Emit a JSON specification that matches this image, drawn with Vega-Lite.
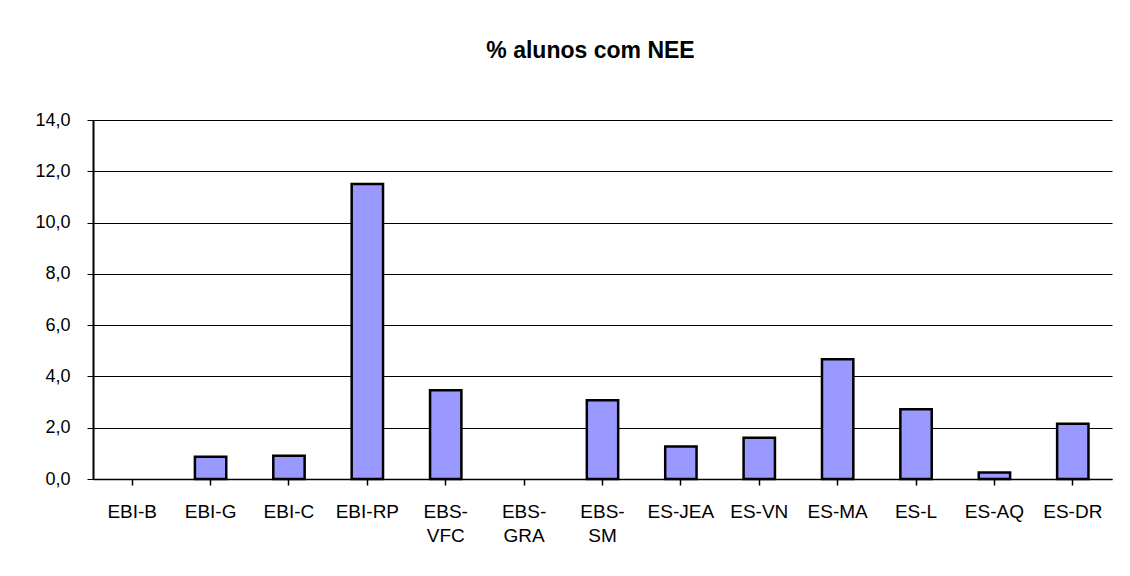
{
  "$schema": "https://vega.github.io/schema/vega-lite/v6.json",
  "autosize": "none",
  "width": 1019,
  "height": 359,
  "padding": {"left": 93, "top": 120, "right": 18, "bottom": 97},
  "background": "white",
  "title": {"text": "% alunos com NEE", "font": "Liberation Sans", "fontSize": 23, "fontWeight": "bold", "color": "black", "offset": 48, "dx": -12},
  "data": {"values": [
    {"escola": "EBI-B", "valor": 0},
    {"escola": "EBI-G", "valor": 0.87},
    {"escola": "EBI-C", "valor": 0.91},
    {"escola": "EBI-RP", "valor": 11.5},
    {"escola": "EBS-VFC", "valor": 3.46},
    {"escola": "EBS-GRA", "valor": 0},
    {"escola": "EBS-SM", "valor": 3.07},
    {"escola": "ES-JEA", "valor": 1.27},
    {"escola": "ES-VN", "valor": 1.61},
    {"escola": "ES-MA", "valor": 4.67},
    {"escola": "ES-L", "valor": 2.72},
    {"escola": "ES-AQ", "valor": 0.25},
    {"escola": "ES-DR", "valor": 2.15}
  ]},
  "mark": {"type": "bar", "fill": "#9999FF", "stroke": "black", "strokeWidth": 2.5},
  "encoding": {
    "x": {
      "field": "escola", "type": "nominal", "sort": null, "title": null,
      "scale": {"paddingInner": 0.6, "paddingOuter": 0.3},
      "axis": {
        "labelAngle": 0, "labelFont": "Liberation Sans", "labelFontSize": 19, "labelColor": "black",
        "labelPadding": 17, "labelLineHeight": 24,
        "tickColor": "black", "tickSize": 6, "tickWidth": 1.5,
        "domainColor": "black", "domainWidth": 1.5, "grid": false,
        "labelExpr": "indexof(datum.value, 'EBS-') == 0 ? ['EBS-', substring(datum.value, 4)] : datum.value"
      }
    },
    "y": {
      "field": "valor", "type": "quantitative", "title": null,
      "scale": {"domain": [0, 14]},
      "axis": {
        "values": [0, 2, 4, 6, 8, 10, 12, 14],
        "labelExpr": "replace(format(datum.value, '.1f'), '.', ',')",
        "labelFont": "Liberation Sans", "labelFontSize": 18, "labelColor": "black", "labelPadding": 17,
        "tickColor": "black", "tickSize": 6, "domainColor": "black", "domainWidth": 2,
        "gridColor": "black", "gridWidth": 1, "gridOpacity": 1
      }
    },
    "opacity": {"condition": {"test": "datum.valor == 0", "value": 0}, "value": 1}
  },
  "config": {"view": {"stroke": null}}
}
